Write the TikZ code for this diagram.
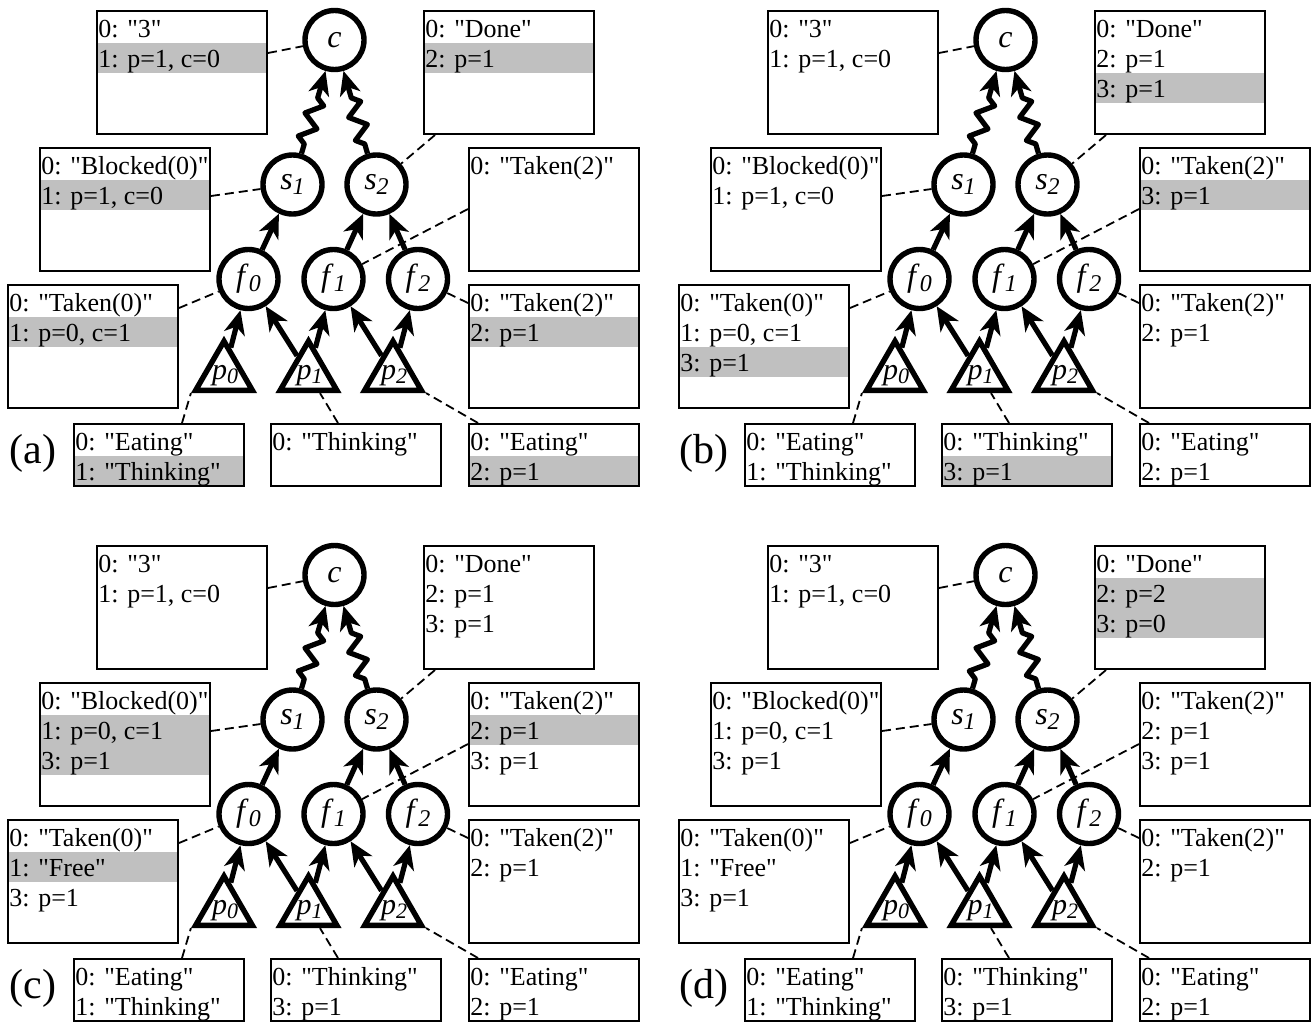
\documentclass[tikz,border=0pt]{standalone}
\usepackage{fontspec}
\setmainfont{Liberation Serif}
\newfontfamily\boxfont{Liberation Serif}
\usetikzlibrary{shapes.geometric,arrows.meta,decorations.pathmorphing}
\definecolor{bandgray}{RGB}{192,192,192}
\newcommand{\nodelab}[2]{\textit{#1}\raisebox{-2.5pt}{\fontsize{12}{12}\selectfont\itshape #2}}
\newcommand{\trilab}[2]{\textit{#1}\raisebox{-2pt}{\fontsize{11}{11}\selectfont\itshape #2}}
\tikzset{
  circ/.style={circle, draw, line width=2.7pt, minimum size=29.5pt, inner sep=0pt, font=\fontsize{16}{16}\selectfont},
  tri/.style={regular polygon, regular polygon sides=3, draw, line width=2.7pt, minimum size=32.8pt, inner sep=0pt},
  nlab/.style={inner sep=0pt, font=\fontsize{15}{15}\selectfont},
  arr/.style={line width=2.6pt, -{Stealth[length=12pt,width=10.5pt,inset=3.5pt]}},
  zarr/.style={arr, line join=round, decorate, decoration={zigzag, segment length=12pt, amplitude=4pt, pre length=5pt, post length=13pt}},
  dashline/.style={line width=0.9pt, dash pattern=on 4.5pt off 2.5pt},
  boxframe/.style={draw, line width=1pt, minimum width=85pt, inner sep=0pt, anchor=north west},
  boxtext/.style={anchor=base west, inner sep=0pt, font=\boxfont\fontsize{13}{15}\selectfont},
  plab/.style={anchor=base, inner sep=0pt, font=\fontsize{21}{21}\selectfont}
}
\newcommand{\bandrow}[3]{\fill[bandgray] (#1,#2+3+30*#3-30) rectangle ++(170,30);}
\newcommand{\infobox}[5]{%
  \node[boxframe, minimum height=#4*0.5pt] (#1) at (#2,#3) {};
  \foreach \boxline [count=\rowno] in {#5} {\node[boxtext] (#1-\rowno) at (#2+2,#3+27+30*\rowno-30) {\boxline};}%
}
\newcommand{\drawtree}[1]{%
  \node[circ] (#1c) at (334.5,40) {\textit{c}};
  \node[circ] (#1s1) at (292.5,184.5) {\nodelab{s}{1}};
  \node[circ] (#1s2) at (376.5,184.5) {\nodelab{s}{2}};
  \node[circ] (#1f0) at (248.5,279) {\nodelab{f}{0}};
  \node[circ] (#1f1) at (333.5,279) {\nodelab{f}{1}};
  \node[circ] (#1f2) at (418,279) {\nodelab{f}{2}};
  \node[tri] (#1p0) at (224,374) {};
  \node[tri] (#1p1) at (308.5,374) {};
  \node[tri] (#1p2) at (393,374) {};
  \node[nlab] (#1p0t) at (225,376) {\trilab{p}{0}};
  \node[nlab] (#1p1t) at (309.5,376) {\trilab{p}{1}};
  \node[nlab] (#1p2t) at (394,376) {\trilab{p}{2}};
  \draw[arr] (#1f0) -- (#1s1);
  \draw[arr] (#1f1) -- (#1s2);
  \draw[arr] (#1f2) -- (#1s2);
  \draw[arr] (#1p0) -- (#1f0);
  \draw[arr] (#1p1) -- (#1f0);
  \draw[arr] (#1p1) -- (#1f1);
  \draw[arr] (#1p2) -- (#1f1);
  \draw[arr] (#1p2) -- (#1f2);
  \draw[zarr] (#1s1) -- (#1c);
  \draw[zarr] (#1s2) -- (#1c);
  \draw[dashline] ([yshift=-21.5pt]#1cbox.north east) -- (#1c);
  \draw[dashline] ([xshift=6pt]#1done.south west) -- (#1s2);
  \draw[dashline] ([yshift=-24.5pt]#1block.north east) -- (#1s1);
  \draw[dashline] ([yshift=-31pt]#1ttop.north west) -- (#1f1);
  \draw[dashline] ([yshift=-12pt]#1tzero.north east) -- (#1f0);
  \draw[dashline] ([yshift=-9.5pt]#1tbot.north west) -- (#1f2);
  \draw[dashline] ([xshift=54.5pt]#1eatl.north west) -- (#1p0.corner 2);
  \draw[dashline] ([xshift=34pt]#1think.north west) -- (#1p1);
  \draw[dashline] ([xshift=5pt]#1eatr.north west) -- (#1p2.corner 3);
}
\begin{document}
\begin{tikzpicture}[x=0.5pt,y=-0.5pt]
\useasboundingbox (0,0) rectangle (1311,1023);
% ---------------- (a)
\begin{scope}
\bandrow{96}{10}{2}
\infobox{acbox}{96}{10}{123}{{0: "3"},{1: p=1, c=0}}
\bandrow{423}{10}{2}
\infobox{adone}{423}{10}{123}{{0: "Done"},{2: p=1}}
\bandrow{39}{147}{2}
\infobox{ablock}{39}{147}{123}{{0: "Blocked(0)"},{1: p=1, c=0}}
\infobox{attop}{468}{147}{123}{{0: "Taken(2)"}}
\bandrow{7}{284}{2}
\infobox{atzero}{7}{284}{123}{{0: "Taken(0)"},{1: p=0, c=1}}
\bandrow{468}{284}{2}
\infobox{atbot}{468}{284}{123}{{0: "Taken(2)"},{2: p=1}}
\bandrow{73}{423}{2}
\infobox{aeatl}{73}{423}{62}{{0: "Eating"},{1: "Thinking"}}
\infobox{athink}{270}{423}{62}{{0: "Thinking"}}
\bandrow{468}{423}{2}
\infobox{aeatr}{468}{423}{62}{{0: "Eating"},{2: p=1}}
\drawtree{a}
\node[plab] (la) at (33,463) {(a)};
\end{scope}
% ---------------- (b)
\begin{scope}[shift={(671,0)}]
\infobox{bcbox}{96}{10}{123}{{0: "3"},{1: p=1, c=0}}
\bandrow{423}{10}{3}
\infobox{bdone}{423}{10}{123}{{0: "Done"},{2: p=1},{3: p=1}}
\infobox{bblock}{39}{147}{123}{{0: "Blocked(0)"},{1: p=1, c=0}}
\bandrow{468}{147}{2}
\infobox{bttop}{468}{147}{123}{{0: "Taken(2)"},{3: p=1}}
\bandrow{7}{284}{3}
\infobox{btzero}{7}{284}{123}{{0: "Taken(0)"},{1: p=0, c=1},{3: p=1}}
\infobox{btbot}{468}{284}{123}{{0: "Taken(2)"},{2: p=1}}
\infobox{beatl}{73}{423}{62}{{0: "Eating"},{1: "Thinking"}}
\bandrow{270}{423}{2}
\infobox{bthink}{270}{423}{62}{{0: "Thinking"},{3: p=1}}
\infobox{beatr}{468}{423}{62}{{0: "Eating"},{2: p=1}}
\drawtree{b}
\node[plab] (lb) at (33,463) {(b)};
\end{scope}
% ---------------- (c)
\begin{scope}[shift={(0,535)}]
\infobox{ccbox}{96}{10}{123}{{0: "3"},{1: p=1, c=0}}
\infobox{cdone}{423}{10}{123}{{0: "Done"},{2: p=1},{3: p=1}}
\bandrow{39}{147}{2}
\bandrow{39}{147}{3}
\infobox{cblock}{39}{147}{123}{{0: "Blocked(0)"},{1: p=0, c=1},{3: p=1}}
\bandrow{468}{147}{2}
\infobox{cttop}{468}{147}{123}{{0: "Taken(2)"},{2: p=1},{3: p=1}}
\bandrow{7}{284}{2}
\infobox{ctzero}{7}{284}{123}{{0: "Taken(0)"},{1: "Free"},{3: p=1}}
\infobox{ctbot}{468}{284}{123}{{0: "Taken(2)"},{2: p=1}}
\infobox{ceatl}{73}{423}{62}{{0: "Eating"},{1: "Thinking"}}
\infobox{cthink}{270}{423}{62}{{0: "Thinking"},{3: p=1}}
\infobox{ceatr}{468}{423}{62}{{0: "Eating"},{2: p=1}}
\drawtree{c}
\node[plab] (lc) at (33,463) {(c)};
\end{scope}
% ---------------- (d)
\begin{scope}[shift={(671,535)}]
\infobox{dcbox}{96}{10}{123}{{0: "3"},{1: p=1, c=0}}
\bandrow{423}{10}{2}
\bandrow{423}{10}{3}
\infobox{ddone}{423}{10}{123}{{0: "Done"},{2: p=2},{3: p=0}}
\infobox{dblock}{39}{147}{123}{{0: "Blocked(0)"},{1: p=0, c=1},{3: p=1}}
\infobox{dttop}{468}{147}{123}{{0: "Taken(2)"},{2: p=1},{3: p=1}}
\infobox{dtzero}{7}{284}{123}{{0: "Taken(0)"},{1: "Free"},{3: p=1}}
\infobox{dtbot}{468}{284}{123}{{0: "Taken(2)"},{2: p=1}}
\infobox{deatl}{73}{423}{62}{{0: "Eating"},{1: "Thinking"}}
\infobox{dthink}{270}{423}{62}{{0: "Thinking"},{3: p=1}}
\infobox{deatr}{468}{423}{62}{{0: "Eating"},{2: p=1}}
\drawtree{d}
\node[plab] (ld) at (33,463) {(d)};
\end{scope}
\end{tikzpicture}
\end{document}
